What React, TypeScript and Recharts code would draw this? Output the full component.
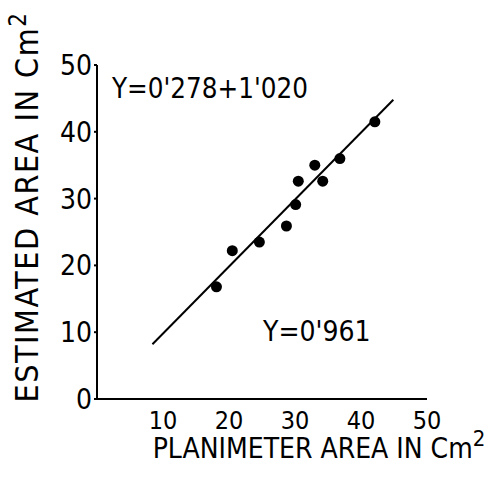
import React from "react";
import {
  ScatterChart,
  Scatter,
  XAxis,
  YAxis,
  ReferenceLine,
} from "recharts";

const planimeterArea = [18.1, 20.5, 24.6, 28.7, 30.1, 30.5, 33.0, 34.2, 36.8, 42.1];
const estimatedArea = [16.8, 22.2, 23.5, 25.9, 29.1, 32.6, 35.0, 32.6, 36.0, 41.5];
const fitX = [8.4, 44.9];
const fitY = [8.2, 44.8];
const xTicks = [10, 20, 30, 40, 50];
const yTicks = [0, 10, 20, 30, 40, 50];

const points = planimeterArea.map((x, i) => ({ x, y: estimatedArea[i] }));

const FONT = "'Liberation Sans Narrow', 'DejaVu Sans Condensed', 'Liberation Sans', sans-serif";

// eslint-disable-next-line @typescript-eslint/no-explicit-any
const XTitle = ({ viewBox }: any) => (
  <text
    x={viewBox.x + viewBox.width / 2 + 57}
    y={viewBox.y + 59}
    textAnchor="middle"
    fontSize={28}
    fontFamily={FONT}
    fill="#000"
  >
    PLANIMETER AREA IN Cm
    <tspan dy={-12} fontSize={22}>2</tspan>
  </text>
);

// eslint-disable-next-line @typescript-eslint/no-explicit-any
const YTitle = ({ viewBox }: any) => {
  const cx = 38;
  const cy = viewBox.y + viewBox.height / 2 - 25;
  return (
    <text
      x={cx}
      y={cy}
      transform={`rotate(-90 ${cx} ${cy})`}
      textAnchor="middle"
      fontSize={32}
      letterSpacing={1.5}
      fontFamily={FONT}
      fill="#000"
    >
      ESTIMATED AREA IN Cm
      <tspan dy={-12} fontSize={24}>2</tspan>
    </text>
  );
};

export default function App() {
  return (
    <div style={{ position: "absolute", left: 0, top: 0, background: "#fff" }}>
      <ScatterChart
        width={497}
        height={478}
        margin={{ top: 65, right: 70, bottom: 49, left: 57 }}
      >
        <XAxis
          type="number"
          dataKey="x"
          domain={[0, 50]}
          ticks={xTicks}
          height={30}
          tickLine={false}
          tickMargin={6}
          stroke="#000"
          strokeWidth={2}
          tick={{ fill: "#000", fontSize: 25, fontFamily: FONT }}
          label={<XTitle />}
        />
        <YAxis
          type="number"
          dataKey="y"
          domain={[0, 50]}
          ticks={yTicks}
          width={40}
          tickSize={3}
          tickMargin={2}
          stroke="#000"
          strokeWidth={2}
          tick={{ fill: "#000", fontSize: 28, fontFamily: FONT }}
          label={<YTitle />}
        />
        <ReferenceLine
          segment={[
            { x: fitX[0], y: fitY[0] },
            { x: fitX[1], y: fitY[1] },
          ]}
          stroke="#000"
          strokeWidth={2}
        />
        <Scatter
          data={points}
          fill="#000"
          isAnimationActive={false}
          shape={(p: any) => <circle cx={p.cx} cy={p.cy} r={5.5} fill="#000" />}
        />
        <text x={112} y={98} fontSize={27.5} fontFamily={FONT} fill="#000">
          Y=0'278+1'020
        </text>
        <text x={263} y={341} fontSize={28} fontFamily={FONT} fill="#000">
          Y=0'961
        </text>
      </ScatterChart>
    </div>
  );
}
